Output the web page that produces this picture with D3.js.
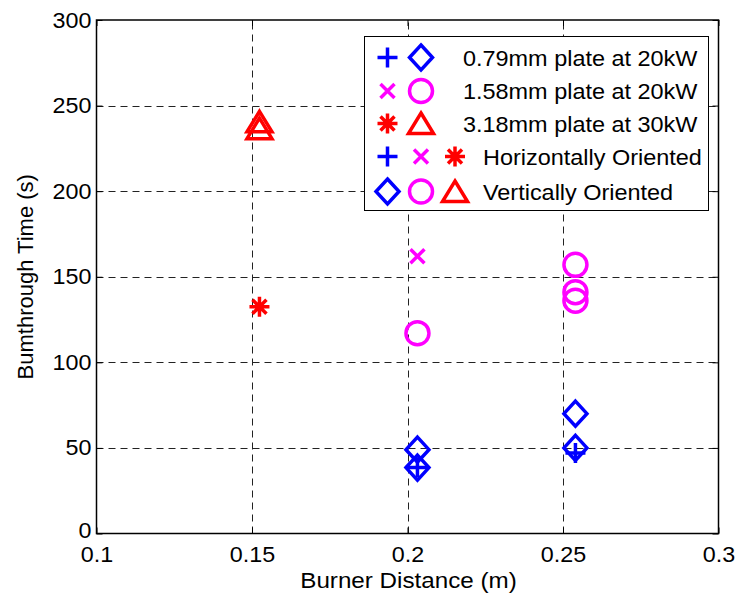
<!DOCTYPE html>
<html>
<head>
<meta charset="utf-8">
<script src="https://cdn.jsdelivr.net/npm/d3@7"></script>
<style>
  html, body { margin: 0; padding: 0; background: #fff; }
  svg text { font-family: "Liberation Sans", Arial, sans-serif; fill: #000; }
</style>
</head>
<body>
<svg id="chart" width="738" height="600"></svg>
<script>
// Burner distance (m) and burnthrough time (s) for each plate / orientation
const h079X = [0.2032, 0.254];
const h079Y = [38.5, 47];
const h158X = [0.2032];
const h158Y = [162];
const h318X = [0.1524];
const h318Y = [132.5];

const v079X = [0.2032, 0.2032, 0.254, 0.254];
const v079Y = [49, 38.5, 70, 50];
const v158X = [0.2032, 0.254, 0.254, 0.254];
const v158Y = [117, 157, 141, 136];
const v318X = [0.1524, 0.1524];
const v318Y = [240.5, 236.5];

const xTicks = [0.1, 0.15, 0.2, 0.25, 0.3];
const yTicks = [0, 50, 100, 150, 200, 250, 300];
const xTickLabels = ["0.1", "0.15", "0.2", "0.25", "0.3"];
const yTickLabels = ["0", "50", "100", "150", "200", "250", "300"];

const legendRows = [
  { symbols: [["plus", "#0000ff"], ["diamond", "#0000ff"]], label: "0.79mm plate at 20kW" },
  { symbols: [["cross", "#ff00ff"], ["circle", "#ff00ff"]], label: "1.58mm plate at 20kW" },
  { symbols: [["star", "#ff0000"], ["triangle", "#ff0000"]], label: "3.18mm plate at 30kW" },
  { symbols: [["plus", "#0000ff"], ["cross", "#ff00ff"], ["star", "#ff0000"]], label: "Horizontally Oriented" },
  { symbols: [["diamond", "#0000ff"], ["circle", "#ff00ff"], ["triangle", "#ff0000"]], label: "Vertically Oriented" }
];

const svg = d3.select("#chart");
const L = 96.5, R = 718.5, T = 20, B = 533.5;
const FS = 22;

// widen horizontal text a little (the figure's lettering is slightly wide)
function widen(sel, k) {
  sel.each(function () {
    const n = this.getComputedTextLength();
    if (n > 0) d3.select(this).attr("textLength", n * k).attr("lengthAdjust", "spacingAndGlyphs");
  });
}

const x = d3.scaleLinear().domain([0.1, 0.3]).range([L, R]);
const y = d3.scaleLinear().domain([0, 300]).range([B, T]);

// dashed grid
const grid = svg.append("g").attr("stroke", "#222").attr("stroke-width", 1).attr("stroke-dasharray", "7,5");
grid.selectAll("line.gx").data(xTicks.slice(1, -1)).join("line")
  .attr("x1", d => Math.round(x(d)) + 0.5).attr("x2", d => Math.round(x(d)) + 0.5)
  .attr("y1", B).attr("y2", T);
grid.selectAll("line.gy").data(yTicks.slice(1, -1)).join("line")
  .attr("y1", d => Math.round(y(d)) + 0.5).attr("y2", d => Math.round(y(d)) + 0.5)
  .attr("x1", L).attr("x2", R);

// axes with inward ticks on all four sides
const tickLen = 6;
const axB = d3.axisBottom(x).tickValues(xTicks).tickSize(-tickLen).tickPadding(13)
  .tickFormat((d, i) => xTickLabels[i]);
const axT = d3.axisTop(x).tickValues(xTicks).tickSize(-tickLen).tickFormat("");
const axL = d3.axisLeft(y).tickValues(yTicks).tickSize(-tickLen).tickPadding(5)
  .tickFormat((d, i) => yTickLabels[i]);
const axR = d3.axisRight(y).tickValues(yTicks).tickSize(-tickLen).tickFormat("");

function styleAxis(g) {
  g.select(".domain").remove();
  g.selectAll("line").attr("stroke", "#000").attr("stroke-width", 1);
  g.selectAll("text").attr("font-size", FS).attr("font-family", "Liberation Sans, Arial, sans-serif").attr("fill", "#000");
}
const gB = svg.append("g").attr("transform", `translate(0,${B})`).call(axB).call(styleAxis);
svg.append("g").attr("transform", `translate(0,${T})`).call(axT).call(styleAxis);
const gL = svg.append("g").attr("transform", `translate(${L},0)`).call(axL).call(styleAxis);
svg.append("g").attr("transform", `translate(${R},0)`).call(axR).call(styleAxis);
widen(gB.selectAll("text"), 1.06);
widen(gL.selectAll("text"), 1.06);
// the zero label sits a touch above its tick, clear of the x labels
gL.selectAll("text").filter(d => d === 0).attr("dy", "0.2em");

svg.append("rect").attr("x", L).attr("y", T).attr("width", R - L).attr("height", B - T)
  .attr("fill", "none").attr("stroke", "#000").attr("stroke-width", 1.5);

// axis titles
const xt = svg.append("text").attr("x", (L + R) / 2 + 1).attr("y", 588).attr("text-anchor", "middle")
  .attr("font-size", FS).text("Burner Distance (m)");
widen(xt, 1.1);
svg.append("text").attr("transform", `translate(33,${(T + B) / 2}) rotate(-90)`)
  .attr("text-anchor", "middle").attr("font-size", FS).text("Bumthrough Time (s)");

// marker shapes, all centred on (0,0)
function markerPath(type) {
  const p = d3.path();
  if (type === "plus") {
    p.moveTo(-10, 0); p.lineTo(10, 0); p.moveTo(0, -10); p.lineTo(0, 10);
  } else if (type === "cross") {
    p.moveTo(-7, -7); p.lineTo(7, 7); p.moveTo(-7, 7); p.lineTo(7, -7);
  } else if (type === "star") {
    p.moveTo(-10, 0); p.lineTo(10, 0); p.moveTo(0, -10); p.lineTo(0, 10);
    p.moveTo(-7, -7); p.lineTo(7, 7); p.moveTo(-7, 7); p.lineTo(7, -7);
  } else if (type === "diamond") {
    p.moveTo(0, -12.5); p.lineTo(11.5, 0); p.lineTo(0, 12.5); p.lineTo(-11.5, 0); p.closePath();
  } else if (type === "circle") {
    p.arc(0, 0, 11.5, 0, 2 * Math.PI); p.closePath();
  } else if (type === "triangle") {
    p.moveTo(0, -10.5); p.lineTo(12.5, 10); p.lineTo(-12.5, 10); p.closePath();
  }
  return p.toString();
}
const strokeW = { plus: 3.5, cross: 3.5, star: 3.5, diamond: 3.5, circle: 3.5, triangle: 3.5 };

function drawSeries(xs, ys, type, color) {
  svg.append("g").selectAll("path").data(xs.map((d, i) => [d, ys[i]])).join("path")
    .attr("transform", d => `translate(${x(d[0])},${y(d[1])})`)
    .attr("d", markerPath(type))
    .attr("fill", "none").attr("stroke", color).attr("stroke-width", strokeW[type])
    .attr("stroke-linejoin", "miter");
}

drawSeries(v079X, v079Y, "diamond", "#0000ff");
drawSeries(v158X, v158Y, "circle", "#ff00ff");
drawSeries(v318X, v318Y, "triangle", "#ff0000");
drawSeries(h079X, h079Y, "plus", "#0000ff");
drawSeries(h158X, h158Y, "cross", "#ff00ff");
drawSeries(h318X, h318Y, "star", "#ff0000");

// legend
const lg = svg.append("g");
lg.append("rect").attr("x", 364.5).attr("y", 36.5).attr("width", 344).attr("height", 174)
  .attr("fill", "#fff").attr("stroke", "#000").attr("stroke-width", 1);
const rowY = [57.5, 91, 123.5, 156.5, 191.5];
const symX = [387.5, 421, 455];
legendRows.forEach((row, r) => {
  row.symbols.forEach((s, k) => {
    lg.append("path").attr("transform", `translate(${symX[k]},${rowY[r]})`)
      .attr("d", markerPath(s[0])).attr("fill", "none").attr("stroke", s[1])
      .attr("stroke-width", strokeW[s[0]]);
  });
  const t = lg.append("text").attr("x", row.symbols.length === 3 ? 483 : 463)
    .attr("y", rowY[r] + 8).attr("font-size", FS).text(row.label);
  widen(t, 1.065);
});
</script>
</body>
</html>
